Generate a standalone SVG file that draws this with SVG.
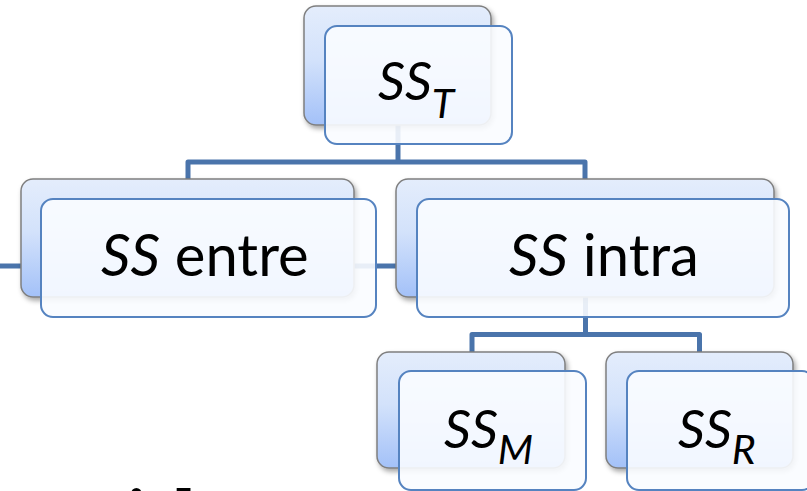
<svg xmlns="http://www.w3.org/2000/svg" width="807" height="491" viewBox="0 0 807 491">
  <defs>
    <linearGradient id="backFill" x1="0" y1="0" x2="0" y2="1">
      <stop offset="0" stop-color="#e4edfc"/>
      <stop offset="0.45" stop-color="#d3e2fb"/>
      <stop offset="1" stop-color="#a3c1f8"/>
    </linearGradient>
    <filter id="shadow" x="-10%" y="-10%" width="125%" height="130%">
      <feDropShadow dx="2" dy="3" stdDeviation="2.5" flood-color="#000" flood-opacity="0.35"/>
    </filter>
    <style>
      .back { fill: url(#backFill); stroke: #7f7f7f; stroke-width: 1.5; filter: url(#shadow); }
      .front { fill: #fafcff; fill-opacity: 0.9; stroke: #5583c0; stroke-width: 2; }
      .link { fill: none; stroke: #4a74ab; stroke-width: 5; stroke-linejoin: round; }
      .lbl { font-family: Lato, "Open Sans", "Liberation Sans", sans-serif; fill: #000; }
      .it { font-style: italic; }
    </style>
  </defs>

  <rect width="807" height="491" fill="#ffffff"/>

  <!-- tree connectors, drawn beneath the boxes -->
  <g id="connectors">
    <path class="link" d="M0,266 H400"/>
    <path class="link" d="M398,120 V162"/>
    <path class="link" d="M188,185 V162 H585 V185"/>
    <path class="link" d="M585.5,290 V334.5"/>
    <path class="link" d="M472,356 V334.5 H699.5 V356"/>
  </g>

  <g id="node-sst">
    <rect class="back" x="304" y="6" width="187" height="119" rx="12"/>
    <rect class="front" x="325" y="26" width="187" height="118" rx="12"/>
    <text class="lbl it" x="378" y="100" font-size="53">SS<tspan font-size="41" dy="18">T</tspan></text>
  </g>

  <g id="node-entre">
    <rect class="back" x="21" y="179" width="333" height="118" rx="12"/>
    <rect class="front" x="41" y="199" width="335" height="118" rx="12"/>
    <text class="lbl" x="101" y="276" font-size="58"><tspan class="it">SS</tspan> entre</text>
  </g>

  <g id="node-intra">
    <rect class="back" x="396" y="179" width="378" height="118" rx="12"/>
    <rect class="front" x="417" y="199" width="372" height="118" rx="12"/>
    <text class="lbl" x="509" y="276" font-size="58"><tspan class="it">SS</tspan> intra</text>
  </g>

  <g id="node-ssm">
    <rect class="back" x="377" y="352" width="188" height="116" rx="12"/>
    <rect class="front" x="399" y="371" width="187" height="119" rx="12"/>
    <text class="lbl it" x="444" y="448" font-size="53">SS<tspan font-size="41" dy="16">M</tspan></text>
  </g>

  <g id="node-ssr">
    <rect class="back" x="606" y="352" width="187" height="116" rx="12"/>
    <rect class="front" x="627" y="371" width="187" height="119" rx="12"/>
    <text class="lbl it" x="678" y="448" font-size="53">SS<tspan font-size="41" dy="16">R</tspan></text>
  </g>

  <!-- heading below, mostly outside the frame -->
  <text x="126" y="531" font-family="'DejaVu Serif', 'Liberation Serif', serif" font-weight="bold" font-size="56" letter-spacing="4" xml:space="preserve" fill="#000">i l</text>
</svg>
